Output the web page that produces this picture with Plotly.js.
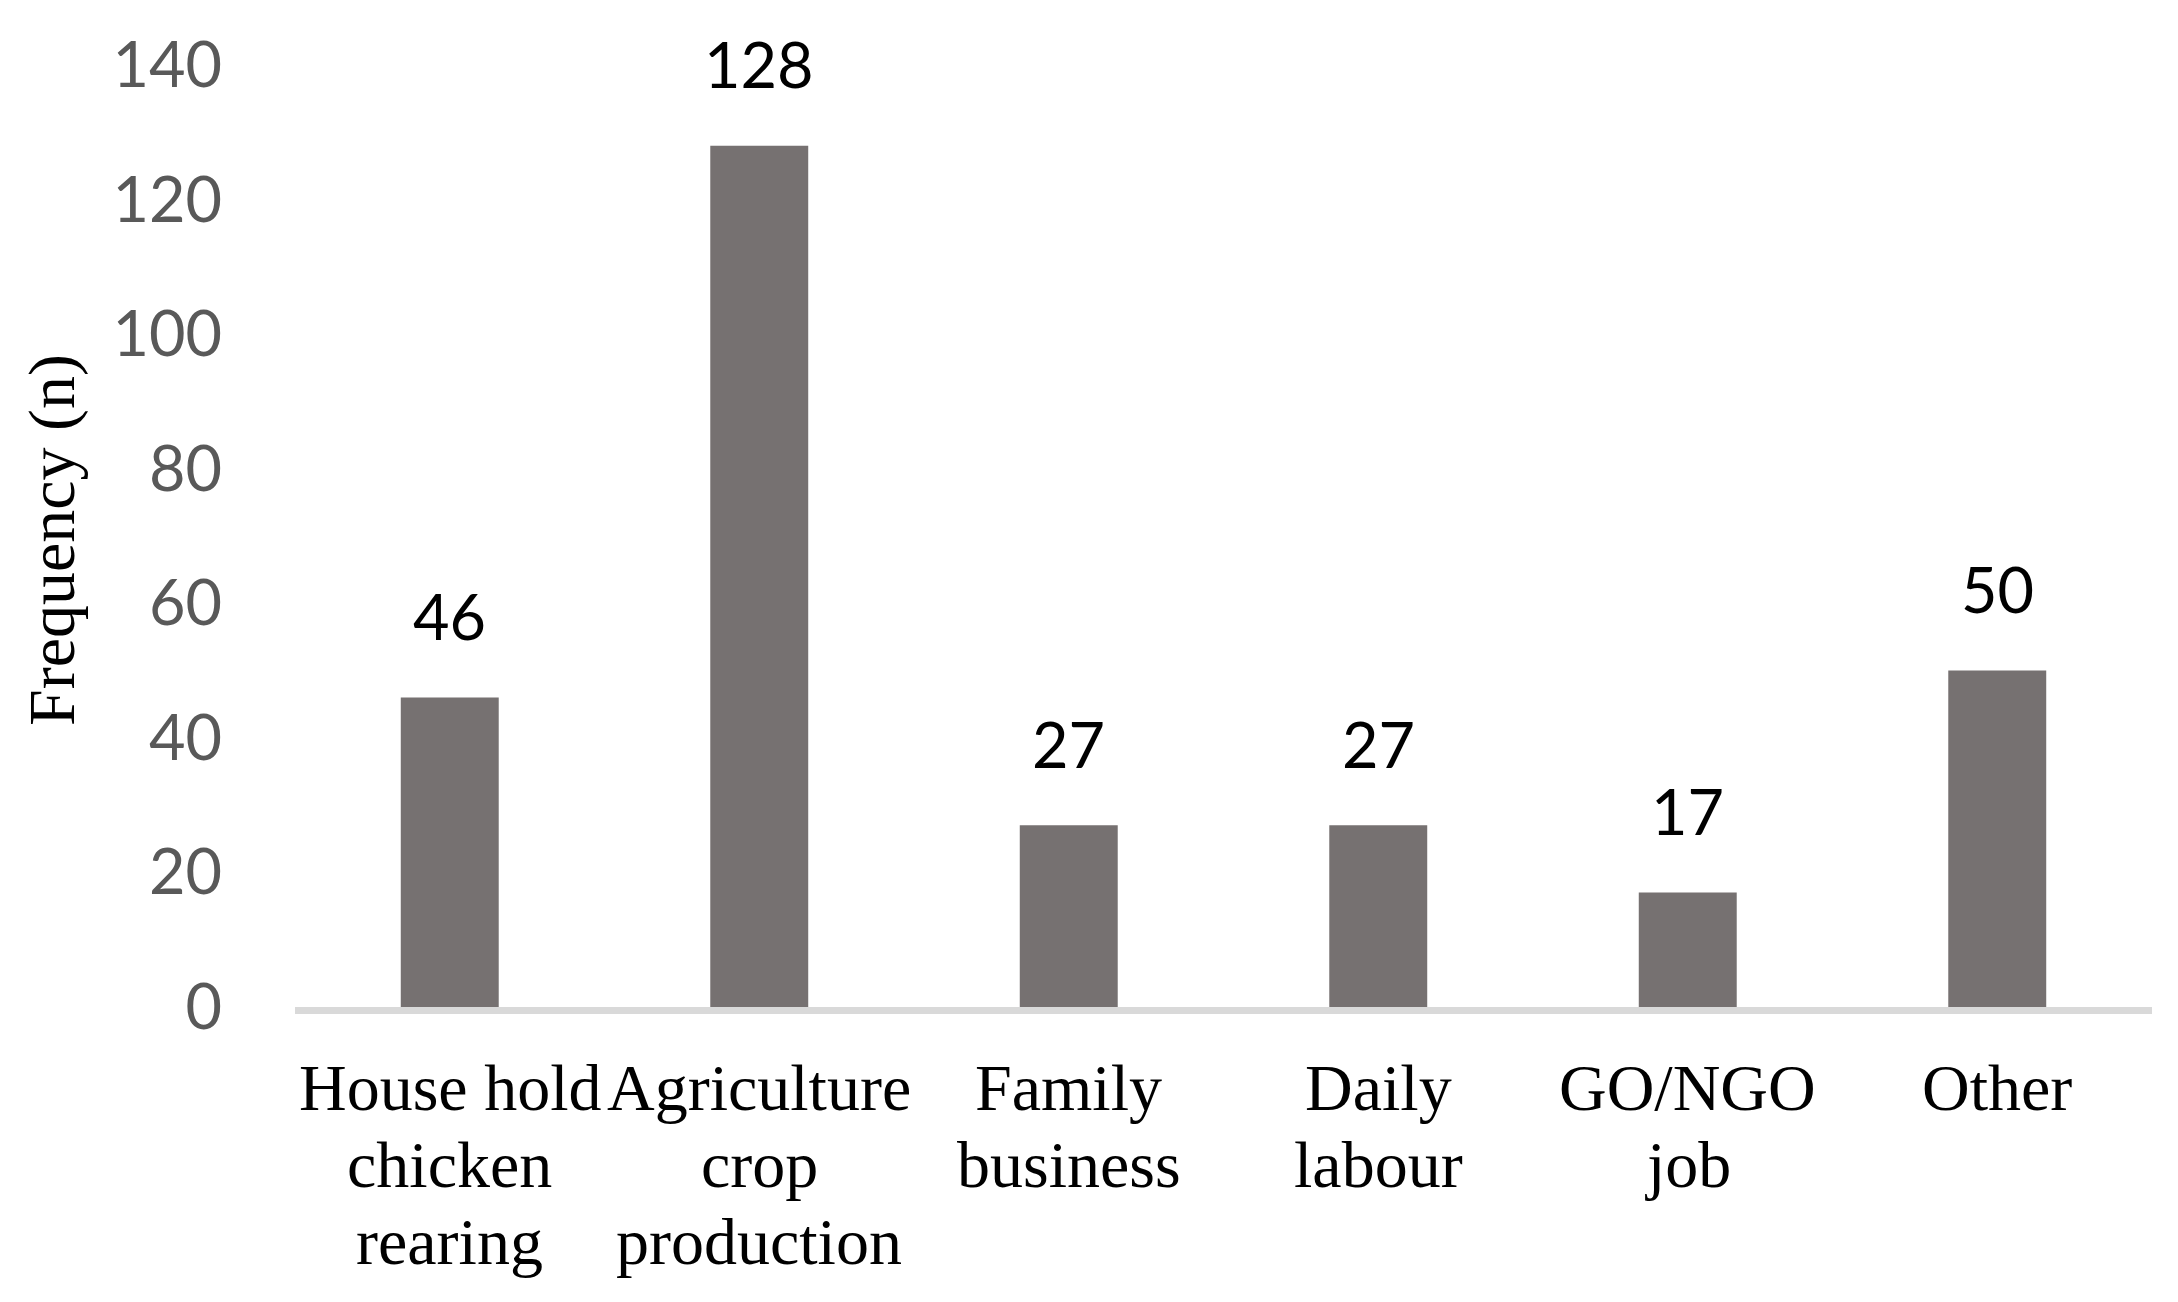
<!DOCTYPE html>
<html>
<head>
<meta charset="utf-8">
<script src="https://cdn.plot.ly/plotly-3.0.1.min.js"></script>
<style>
  html, body { margin: 0; padding: 0; background: #ffffff; }
  #chart { width: 2178px; height: 1302px; }
</style>
</head>
<body>
<div id="chart"></div>
<script>
// ---- Data ----
const categories = [
  "House hold chicken rearing",
  "Agriculture crop production",
  "Family business",
  "Daily labour",
  "GO/NGO job",
  "Other"
];
const labelLines = [
  ["House hold", "chicken", "rearing"],
  ["Agriculture", "crop", "production"],
  ["Family", "business"],
  ["Daily", "labour"],
  ["GO/NGO", "job"],
  ["Other"]
];
const frequency = [46, 128, 27, 27, 17, 50];
const yTickVals = [0, 20, 40, 60, 80, 100, 120, 140];
const yTitle = "Frequency (n)";

// ---- Styles ----
const barColor = "#767171";
const axisLineColor = "#d9d9d9";
const tickColor = "#595959";
const sansFont = "Lato, 'Open Sans', sans-serif";
const serifFont = "'Liberation Serif', 'DejaVu Serif', serif";

const trace = {
  type: "bar",
  x: categories,
  y: frequency,
  marker: { color: barColor },
  hoverinfo: "x+y"
};

const annotations = [];

// data labels above bars
categories.forEach((c, i) => {
  annotations.push({
    x: c, y: frequency[i], xref: "x", yref: "y",
    text: String(frequency[i]),
    showarrow: false,
    xanchor: "center", yanchor: "middle",
    yshift: 82,
    font: { family: sansFont, size: 63, color: "#000000" }
  });
});

// category labels (multi-line, tighter line spacing than tick labels allow)
categories.forEach((c, i) => {
  labelLines[i].forEach((line, j) => {
    annotations.push({
      x: c, y: 0, xref: "x", yref: "paper",
      text: line,
      showarrow: false,
      xanchor: "center", yanchor: "middle",
      yshift: -(80 + j * 77),
      font: { family: serifFont, size: 66, color: "#000000" }
    });
  });
});

// y-axis title
annotations.push({
  x: 0, y: 0.4958, xref: "paper", yref: "paper",
  text: yTitle,
  textangle: -90,
  showarrow: false,
  xanchor: "center", yanchor: "middle",
  xshift: -243,
  font: { family: serifFont, size: 66, color: "#000000" }
});

const layout = {
  width: 2178,
  height: 1302,
  margin: { l: 295, r: 26, t: 65, b: 295, pad: 0 },
  paper_bgcolor: "#ffffff",
  plot_bgcolor: "#ffffff",
  showlegend: false,
  bargap: 0.6835,
  xaxis: {
    type: "category",
    showline: true,
    linecolor: axisLineColor,
    linewidth: 7,
    showgrid: false,
    zeroline: false,
    ticks: "",
    showticklabels: false,
    fixedrange: true
  },
  yaxis: {
    range: [0, 140],
    tickvals: yTickVals,
    ticktext: yTickVals.map(String),
    showline: false,
    showgrid: false,
    zeroline: false,
    ticks: "",
    ticklabelstandoff: 72,
    tickfont: { family: sansFont, size: 63, color: tickColor },
    fixedrange: true
  },
  annotations: annotations
};

Plotly.newPlot("chart", [trace], layout, { displayModeBar: false, staticPlot: true });
</script>
</body>
</html>
